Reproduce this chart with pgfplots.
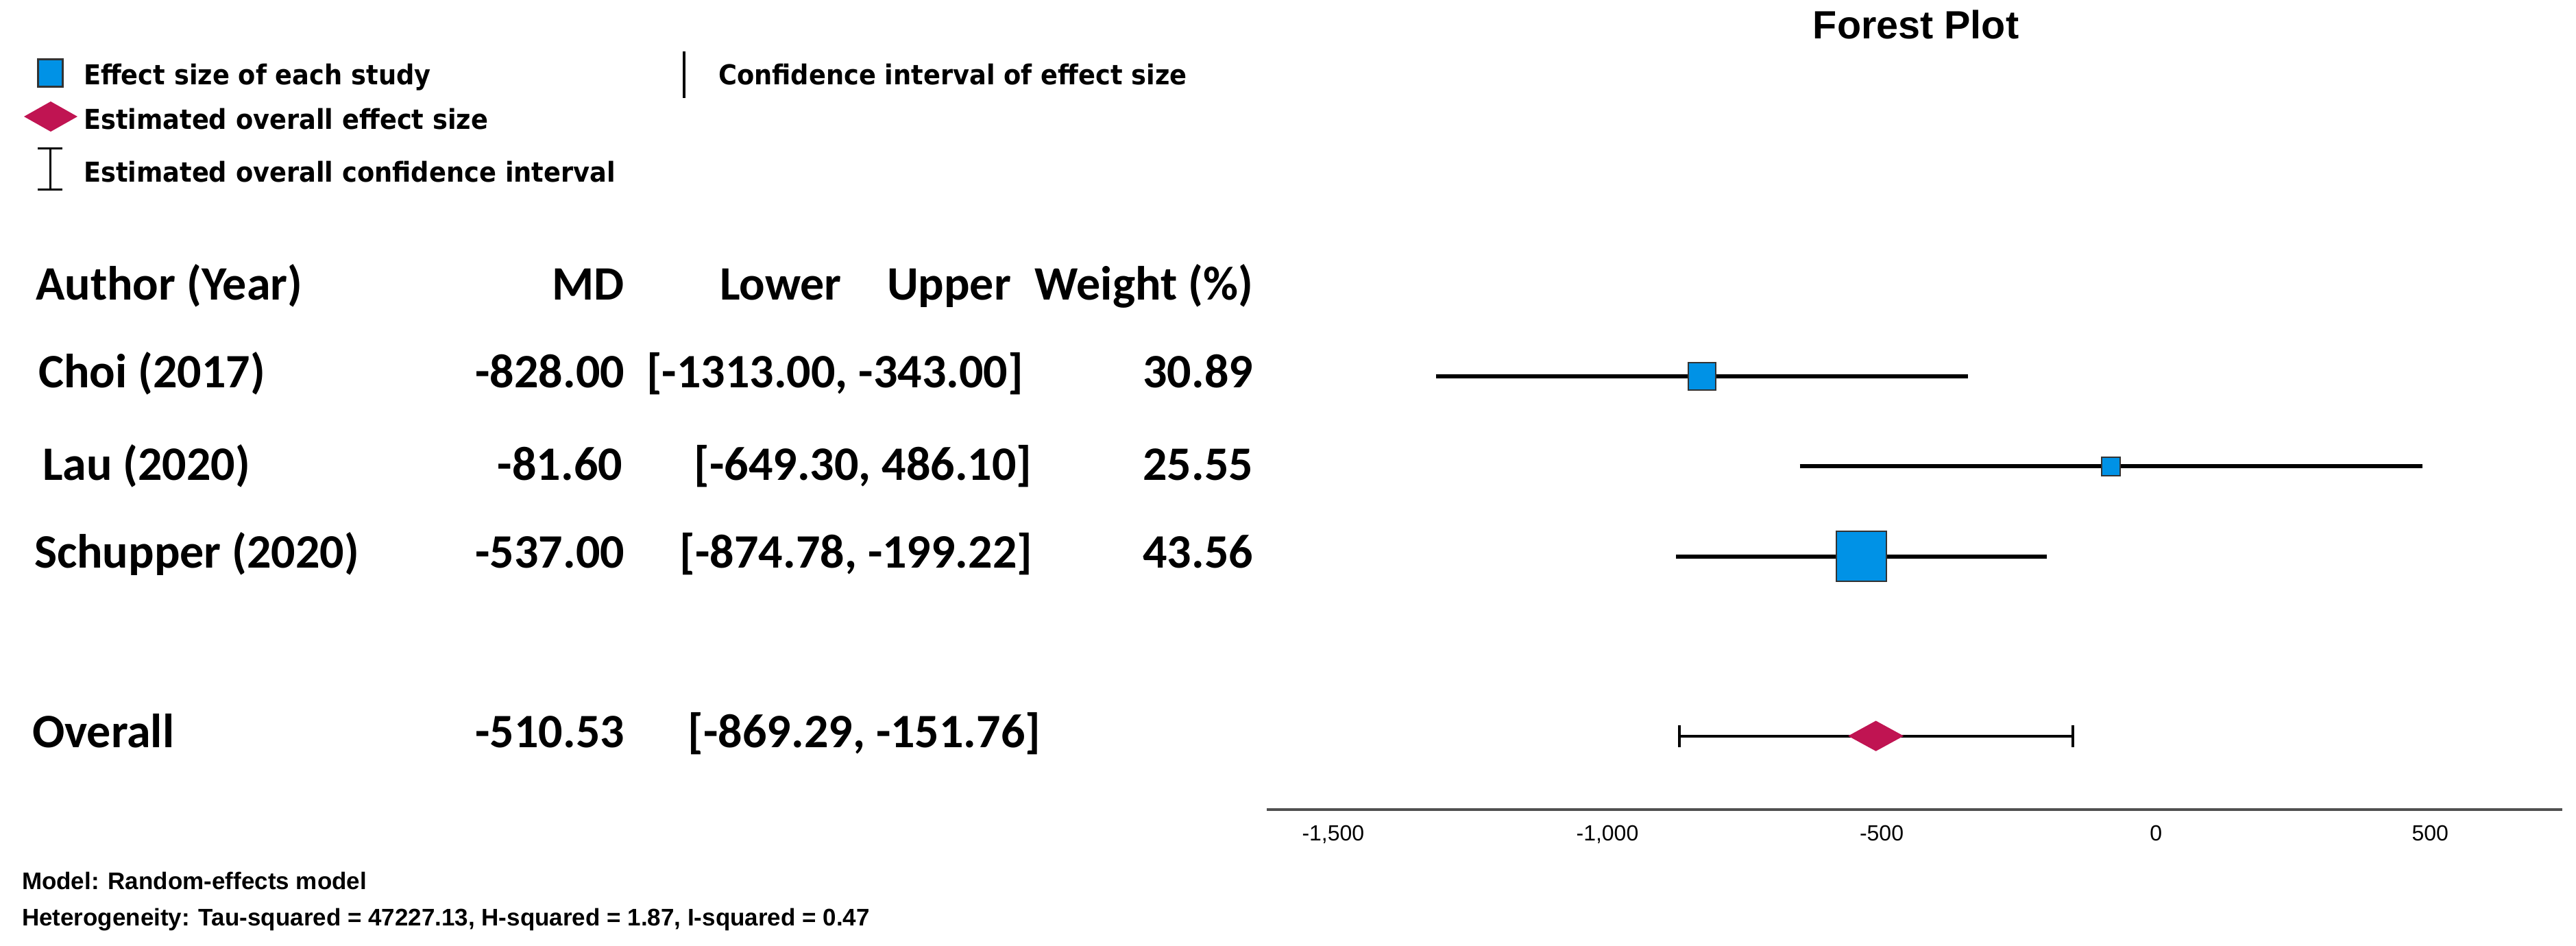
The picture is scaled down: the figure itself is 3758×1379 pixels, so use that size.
\documentclass[border=0pt]{standalone}
\usepackage{fontspec}
\setmainfont{Liberation Sans}
\newfontfamily\tabfont{Carlito}
\newfontfamily\legfont{DejaVu Sans}[FakeStretch=0.92]
\usepackage{pgfplots}
\pgfplotsset{compat=1.18}
\definecolor{fblue}{RGB}{0,146,230}
\definecolor{fcrim}{RGB}{192,20,82}
\definecolor{axgray}{RGB}{80,80,80}
\newcommand{\tf}{\tabfont\bfseries\fontsize{14}{16}\selectfont}
\newcommand{\lf}{\legfont\bfseries\fontsize{8}{9.6}\selectfont}
\begin{document}
\begin{tikzpicture}
\begin{scope}[x=0.2pt,y=-0.2pt]
\path[use as bounding box] (0,0) rectangle (3758,1379);
% legend
\filldraw[fill=fblue,draw=black!80,line width=0.6pt] (55,86) rectangle (91,126);
\node[anchor=base west,inner sep=0pt] at (121,123) {\lf Effect size of each study};
\fill[fcrim] (35,170) -- (74,148) -- (113,170) -- (74,192) -- cycle;
\node[anchor=base west,inner sep=0pt] at (121,188) {\lf Estimated overall effect size};
\draw[line width=0.6pt] (73,216) -- (73,276) (55,216) -- (91,216) (55,276) -- (91,276);
\node[anchor=base west,inner sep=0pt] at (121,265) {\lf Estimated overall confidence interval};
\draw[line width=0.8pt] (998,75) -- (998,143);
\node[anchor=base west,inner sep=0pt] at (1047,123) {\lf Confidence interval of effect size};
% title
\node[anchor=base,inner sep=0pt] at (2795,56) {\bfseries\fontsize{11.5}{13}\selectfont Forest Plot};
% table header
\node[anchor=base west,inner sep=0pt] at (51,437) {\tf Author (Year)};
\node[anchor=base east,inner sep=0pt] at (912,437) {\tf MD};
\node[anchor=base west,inner sep=0pt] at (1049,437) {\tf Lower};
\node[anchor=base west,inner sep=0pt] at (1293,437) {\tf Upper};
\node[anchor=base east,inner sep=0pt] at (1829,437) {\tf Weight (\%)};
% rows
\node[anchor=base west,inner sep=0pt] at (55,565) {\tf Choi (2017)};
\node[anchor=base east,inner sep=0pt] at (912,565) {\tf -828.00};
\node[anchor=base,inner sep=0pt] at (1218,565) {\tf [-1313.00, -343.00]};
\node[anchor=base east,inner sep=0pt] at (1829,565) {\tf 30.89};
\node[anchor=base west,inner sep=0pt] at (61,700) {\tf Lau (2020)};
\node[anchor=base east,inner sep=0pt] at (909,700) {\tf -81.60};
\node[anchor=base,inner sep=0pt] at (1259,700) {\tf [-649.30, 486.10]};
\node[anchor=base east,inner sep=0pt] at (1829,700) {\tf 25.55};
\node[anchor=base west,inner sep=0pt] at (49,828) {\tf Schupper (2020)};
\node[anchor=base east,inner sep=0pt] at (912,828) {\tf -537.00};
\node[anchor=base,inner sep=0pt] at (1249,828) {\tf [-874.78, -199.22]};
\node[anchor=base east,inner sep=0pt] at (1829,828) {\tf 43.56};
\node[anchor=base west,inner sep=0pt] at (46,1090) {\tf Overall};
\node[anchor=base east,inner sep=0pt] at (912,1090) {\tf -510.53};
\node[anchor=base,inner sep=0pt] at (1261,1090) {\tf [-869.29, -151.76]};
% footnotes
\node[anchor=base west,inner sep=0pt] at (31,1297) {\bfseries\fontsize{7}{8}\selectfont Model: Random-effects model};
\node[anchor=base west,inner sep=0pt] at (31,1350) {\bfseries\fontsize{7}{8}\selectfont Heterogeneity: Tau-squared = 47227.13, H-squared = 1.87, I-squared = 0.47};
\end{scope}
\begin{axis}[
  scale only axis, width=378pt, height=156.2pt,
  at={(369.6pt,-236.2pt)}, anchor=south west,
  xmin=-1621, xmax=741, ymin=-5.82, ymax=0.14,
  axis x line*=bottom, axis y line=none,
  x axis line style={line width=0.8pt, draw=axgray, -},
  xtick={-1500,-1000,-500,0,500},
  major tick length=0pt,
  xticklabel style={font=\fontsize{6.4}{7}\selectfont, inner sep=0pt, yshift=-4.4pt},
  /pgf/number format/assume math mode=true,
  /pgf/number format/1000 sep={,},
  clip=false,
]
\addplot[only marks, mark=square*, mark size=4pt, mark options={fill=fblue, draw=black!80, line width=0.4pt}] coordinates {(-828,-1)};
\addplot[only marks, mark=square*, mark size=2.7pt, mark options={fill=fblue, draw=black!80, line width=0.4pt}] coordinates {(-81.6,-2)};
\addplot[only marks, mark=square*, mark size=7.3pt, mark options={fill=fblue, draw=black!80, line width=0.4pt}] coordinates {(-537,-3)};
\addplot[black, line width=1.2pt] coordinates {(-1313,-1) (-343,-1)};
\addplot[black, line width=1.2pt] coordinates {(-649.3,-2) (486.1,-2)};
\addplot[black, line width=1.2pt] coordinates {(-874.78,-3) (-199.22,-3)};
\addplot[only marks, mark=diamond*, mark size=4.2pt, mark options={xscale=2.44, fill=fcrim, draw=fcrim}] coordinates {(-510.53,-5)};
\addplot[black, line width=0.8pt] coordinates {(-869.29,-5) (-151.76,-5)};
\addplot[only marks, mark=|, mark size=3.2pt, mark options={line width=0.8pt, draw=black}] coordinates {(-869.29,-5) (-151.76,-5)};
\end{axis}
\end{tikzpicture}
\end{document}
